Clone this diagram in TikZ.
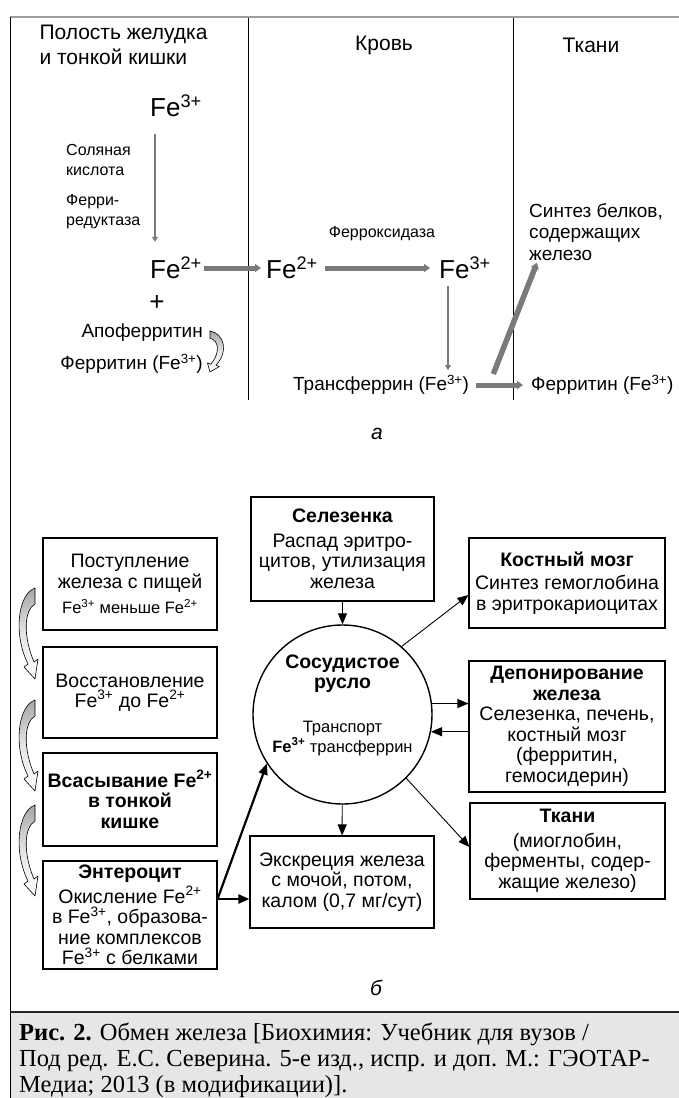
\documentclass[tikz,border=0pt]{standalone}
\usepackage{fontspec}
\setmainfont{Liberation Sans}
\newfontfamily\capfont{Liberation Serif}
\usetikzlibrary{positioning, arrows.meta}

\definecolor{arrgray}{RGB}{122,122,122}
\definecolor{capgray}{RGB}{230,230,230}

\newcommand{\FeII}{Fe\textsuperscript{2+}}
\newcommand{\FeIII}{Fe\textsuperscript{3+}}

\tikzset{
box/.style={draw, line width=1.1pt, fill=white, align=center, inner sep=2pt, font=\fontsize{19.5}{20.5}\selectfont}, % boxes of part b
boldbox/.style={box, font=\fontsize{19.5}{20.5}\selectfont\bfseries},
vessel/.style={draw, circle, line width=1.4pt, minimum size=179pt, inner sep=0pt},
arr/.style={-{Triangle[length=11pt, width=9pt]}, line width=0.9pt},
thickarr/.style={-{Triangle[length=11pt, width=9pt]}, line width=2.2pt},
grayarr/.style={-{Triangle[length=5pt, width=6pt]}, arrgray, line width=2.7pt},
thickgray/.style={-{Triangle[length=6pt, width=8pt]}, arrgray, line width=5pt},
headtext/.style={font=\fontsize{21}{25}\selectfont, align=left},
fetext/.style={font=\fontsize{26}{30}\selectfont, inner sep=2pt},
smalltext/.style={font=\fontsize{16}{20}\selectfont, align=left, inner sep=2pt},
labtext/.style={font=\fontsize{19}{21.5}\selectfont, align=left, inner sep=2pt},
bendarrow/.pic={
    \shadedraw[top color=gray!70, bottom color=white, middle color=gray!20, draw=black, line width=0.6pt, line join=round]
    (0,0) .. controls (-17,6) and (-22,46) .. (-7,76) -- (-11,79) -- (0,91) -- (3,71) -- (-1,74)
    .. controls (-12,48) and (-11,22) .. (0,16) -- cycle;
},
}

\begin{document}
\begin{tikzpicture}[x=1pt, y=-1pt]
    \useasboundingbox (0,0) rectangle (679,1098);

    % frame and caption field
    \fill[capgray] (10,1012) rectangle (679,1098);
    \draw[line width=1.5pt, gray!75] (10,17) -- (679,17);
    \draw[line width=1.5pt, black!85] (10,1012) -- (679,1012);
    \draw[line width=1pt] (10,17) -- (10,1098);

    % part a
    \draw[line width=0.8pt] (248,18) -- (248,400);
    \draw[line width=0.8pt] (513,18) -- (513,400);

    \node[headtext, anchor=west] (cavity) at (36,45) {Полость желудка\\и тонкой кишки};
    \node[headtext] (blood) at (384,45) {Кровь};
    \node[headtext] (tissues) at (591,45) {Ткани};

    \node[fetext, anchor=west] (fe3a) at (148,106) {\FeIII};
    \node[smalltext, anchor=west] (hcl) at (64,160) {Соляная\\кислота};
    \node[smalltext, anchor=west] (reductase) at (64,212) {Ферри-\\редуктаза};
    \node[fetext, anchor=west] (fe2a) at (148,268) {\FeII};
    \node[fetext, anchor=west] (fe2b) at (264,268) {\FeII};
    \node[fetext, anchor=west] (fe3b) at (437,268) {\FeIII};
    \node[smalltext] (oxidase) at (382,234) {Ферроксидаза};
    \node[labtext, anchor=west] (synth) at (527,232) {Синтез белков,\\содержащих\\железо};
    \node[fetext] (plus) at (157,303) {+};
    \node[labtext, anchor=east] (apo) at (205,333) {Апоферритин};
    \node[labtext, anchor=east] (ferra) at (205,364) {Ферритин (\FeIII)};
    \node[labtext, anchor=west] (transf) at (291,385) {Трансферрин (\FeIII)};
    \node[labtext, anchor=west] (ferrt) at (529,385) {Ферритин (\FeIII)};
    \node[font=\fontsize{21}{25}\selectfont\itshape] (parta) at (377,434) {а};

    \draw[grayarr, shorten <=15pt, shorten >=13pt] ([xshift=7pt]fe3a.south west) -- ([xshift=7pt]fe2a.north west);
    \draw[thickgray, shorten >=3pt] (fe2a) -- (fe2b);
    \draw[thickgray, shorten <=5pt, shorten >=7pt] (fe2b) -- (fe3b);
    \draw[grayarr, shorten <=5pt, shorten >=3pt] ([xshift=11pt]fe3b.south west) -- ([xshift=11pt]fe3b.south west |- transf.north);
    \draw[thickgray, shorten <=5pt, shorten >=6pt] (transf) -- (ferrt);
    \draw[thickgray, line width=5.5pt] ([xshift=22pt, yshift=11pt]transf.east) -- ([xshift=10pt]synth.south west);
    \pic[xscale=-0.85, yscale=0.45] at (210,331) {bendarrow};

    % part b
    \node[box, minimum width=174pt, minimum height=92pt] (food) at (130,584) {Поступление\\железа с пищей\\[5pt]{\fontsize{16.5}{18}\selectfont \FeIII{} меньше \FeII}};
    \node[box, minimum width=174pt, minimum height=91pt] (reduce) at (130,692.5) {Восстановление\\\FeIII{} до \FeII};
    \node[boldbox, minimum width=174pt, minimum height=93pt] (absorb) at (130,799.5) {Всасывание \FeII\\в тонкой\\кишке};
    \node[box, minimum width=174pt, minimum height=108pt] (entero) at (130,915) {\textbf{Энтероцит}\\[2pt]Окисление \FeII\\в \FeIII, образова-\\ние комплексов\\\FeIII{} с белками};
    \node[box, minimum width=183pt, minimum height=104pt] (spleen) at (342.5,549) {\textbf{Селезенка}\\[4pt]Распад эритро-\\цитов, утилизация\\железа};
    \node[vessel] (vessel) at (342.5,714.5) {};
    \node[align=center, font=\fontsize{19.5}{20}\selectfont] (vesseltext) at (342.5,705) {\textbf{Сосудистое}\\\textbf{русло}\\[24pt]{\fontsize{16.5}{20}\selectfont Транспорт}\\{\fontsize{16.5}{20}\selectfont\textbf{\FeIII} трансферрин}};
    \node[box, minimum width=196pt, minimum height=90pt] (marrow) at (567,583) {\textbf{Костный мозг}\\[3pt]Синтез гемоглобина\\в эритрокариоцитах};
    \node[box, minimum width=196pt, minimum height=131pt] (depot) at (567,726.5) {\textbf{Депонирование}\\\textbf{железа}\\Селезенка, печень,\\костный мозг\\(ферритин,\\гемосидерин)};
    \node[box, minimum width=195pt, minimum height=96pt] (tissue) at (567.5,851) {\textbf{Ткани}\\[4pt](миоглобин,\\ферменты, содер-\\жащие железо)};
    \node[box, minimum width=184pt, minimum height=92pt] (excr) at (342,882) {Экскреция железа\\с мочой, потом,\\калом (0,7 мг/сут)};
    \node[font=\fontsize{21}{25}\selectfont\itshape] (partb) at (376,988) {б};

    \pic at (35,588) {bendarrow};
    \pic at (35,700) {bendarrow};
    \pic at (35,805) {bendarrow};

    \draw[arr] (spleen) -- (vessel);
    \draw[arr] (vessel.49) -- ([yshift=-12pt]marrow.west);
    \draw[arr] (vessel.7) -- (vessel.7 -| depot.west);
    \draw[arr] (vessel.-11 -| depot.west) -- (vessel.-11);
    \draw[arr] (vessel) -- (excr);
    \draw[arr] (vessel.-45) -- ([yshift=4pt]tissue.west);
    \coordinate (entout) at ([yshift=16pt]entero.east);
    \draw[thickarr] (entout) -- (vessel.213);
    \draw[thickarr] (entout) -- (entout -| excr.west);

    % caption
    \node[anchor=north west, align=left, inner sep=0pt, font=\capfont\fontsize{24.5}{26}\selectfont] (caption) at (19,1023) {\textbf{Рис. 2.} Обмен железа [Биохимия: Учебник для вузов /\\Под ред. Е.С. Северина. 5-е изд., испр. и доп. М.: ГЭОТАР-\\Медиа; 2013 (в модификации)].};
\end{tikzpicture}
\end{document}
